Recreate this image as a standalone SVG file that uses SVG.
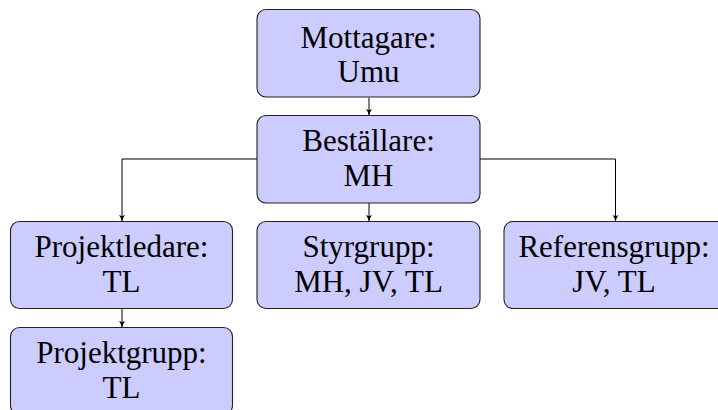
<svg xmlns="http://www.w3.org/2000/svg" width="718" height="410" viewBox="0 0 718 410">
<style>
.box{fill:#ccccff;stroke:#222;stroke-width:1.1}
.t{font-family:'Liberation Serif','Times New Roman',serif;font-size:31px;fill:#000;text-anchor:middle}
.c{fill:none;stroke:#000;stroke-width:1}
</style>
<defs>
<marker id="ah" markerWidth="8" markerHeight="8" refX="6" refY="4" orient="auto" markerUnits="userSpaceOnUse">
<path d="M0,1 Q3,3.2 6.5,4 Q3,4.8 0,7 L1.3,4 Z" fill="#000"/>
</marker>
</defs>
<g id="connectors">
<path class="c" d="M369,97.5 V115" marker-end="url(#ah)"/>
<path class="c" d="M369,203 V221" marker-end="url(#ah)"/>
<path class="c" d="M257,159 H122 V221" marker-end="url(#ah)"/>
<path class="c" d="M480,159 H615.5 V221" marker-end="url(#ah)"/>
<path class="c" d="M122,308.5 V327" marker-end="url(#ah)"/>
</g>
<g id="mottagare">
<rect class="box" x="257" y="9.5" width="223" height="87.5" rx="9"/>
<text class="t" x="368.5" y="47.5">Mottagare:</text>
<text class="t" x="368.5" y="81.5">Umu</text>
</g>
<g id="bestallare">
<rect class="box" x="257" y="115.5" width="223" height="87.5" rx="9"/>
<text class="t" x="368.5" y="151">Beställare:</text>
<text class="t" x="368.5" y="186">MH</text>
</g>
<g id="projektledare">
<rect class="box" x="10.5" y="221.5" width="222" height="87" rx="9"/>
<text class="t" x="121.5" y="257">Projektledare:</text>
<text class="t" x="121.5" y="292">TL</text>
</g>
<g id="styrgrupp">
<rect class="box" x="257" y="221.5" width="223" height="87" rx="9"/>
<text class="t" x="368.5" y="257">Styrgrupp:</text>
<text class="t" x="368.5" y="292">MH, JV, TL</text>
</g>
<g id="referensgrupp">
<rect class="box" x="504" y="221.5" width="224" height="87" rx="9"/>
<text class="t" x="614" y="257">Referensgrupp:</text>
<text class="t" x="614" y="292">JV, TL</text>
</g>
<g id="projektgrupp">
<rect class="box" x="10.5" y="327.5" width="222" height="87" rx="9"/>
<text class="t" x="121.5" y="363">Projektgrupp:</text>
<text class="t" x="121.5" y="398">TL</text>
</g>
</svg>
